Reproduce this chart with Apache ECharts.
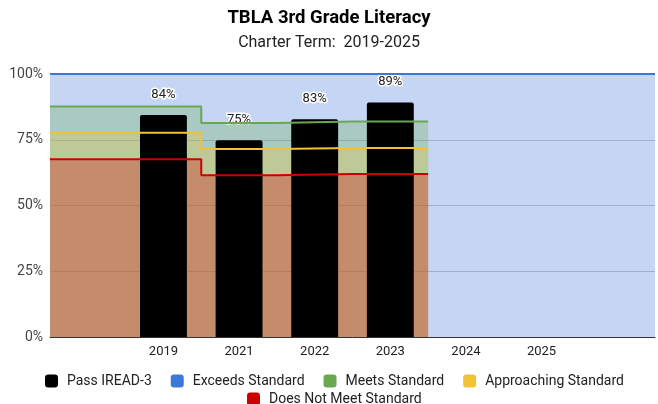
<!DOCTYPE html>
<html>
<head>
<meta charset="utf-8">
<title>TBLA 3rd Grade Literacy</title>
<script src="https://cdn.jsdelivr.net/npm/echarts@6/dist/echarts.min.js"></script>
<style>
  html, body { margin: 0; padding: 0; background: #fff; }
  #chart { width: 658px; height: 404px; }
</style>
</head>
<body>
<div id="chart"></div>
<script>
// 横轴分类（首尾为空白分类）
const categories = ["", "2019", "2021", "2022", "2023", "2024", "2025", ""];

// 学生通过率（柱状）
const passIread = [null, 84.4, 74.8, 82.8, 89.2, null, null, null];

// 各标准阈值（阶梯面积）
const exceedsStandard = [100, 100, 100, 100, 100, 100, 100, 100];
const meetsStandard = [87.6, 87.6, 81.4, 81.9, 81.9, null, null, null];
const approachingStandard = [77.7, 77.7, 71.5, 71.9, 71.9, null, null, null];
const doesNotMeetStandard = [67.6, 67.6, 61.5, 62.0, 62.0, null, null, null];

const yTicks = [0, 25, 50, 75, 100];

const COLORS = {
  pass: "#000000",
  exceeds: "#3c78d8",
  meets: "#6aa84f",
  approaching: "#f1c232",
  doesNot: "#cc0000",
};

const FONT = "Roboto";

// 把每个分类的值转成阶梯点：每个分类占 [i, i+1]
function stepPoints(vals) {
  const pts = [];
  let last = -1;
  vals.forEach((v, i) => {
    if (v != null) {
      pts.push([i, v]);
      last = i;
    }
  });
  pts.push([last + 1, vals[last]]);
  return pts;
}

// 面积层（在柱子下面）
function areaSeries(name, vals, color) {
  return {
    name: name,
    type: "line",
    xAxisIndex: 1,
    step: "end",
    data: stepPoints(vals),
    symbol: "none",
    lineStyle: { width: 0 },
    itemStyle: { color: color },
    areaStyle: { color: color, opacity: 0.3 },
    z: 1,
  };
}

// 线条层（在柱子上面）
function lineSeries(name, vals, color, width) {
  return {
    name: name,
    type: "line",
    xAxisIndex: 1,
    step: "end",
    data: stepPoints(vals),
    symbol: "none",
    lineStyle: { color: color, width: width },
    itemStyle: { color: color },
    z: 4,
  };
}

const legendText = { fontFamily: FONT, fontSize: 14, color: "#222", padding: [0, 0, 0, 4] };

const chart = echarts.init(document.getElementById("chart"));

chart.setOption({
  animation: false,
  textStyle: { fontFamily: FONT },
  title: {
    text: "TBLA 3rd Grade Literacy",
    subtext: "Charter Term:  2019-2025",
    left: "center",
    top: 2,
    itemGap: 4,
    textStyle: { fontFamily: FONT, fontSize: 18.5, fontWeight: "bold", color: "#000", lineHeight: 22 },
    subtextStyle: { fontFamily: FONT, fontSize: 16, color: "#222", lineHeight: 20 },
  },
  legend: [
    {
      data: [
        { name: "Pass IREAD-3", itemStyle: { color: COLORS.pass } },
        { name: "Exceeds Standard", itemStyle: { color: COLORS.exceeds } },
        { name: "Meets Standard", itemStyle: { color: COLORS.meets } },
        { name: "Approaching Standard", itemStyle: { color: COLORS.approaching } },
      ],
      left: 40,
      top: 369,
      icon: "roundRect",
      itemWidth: 13,
      itemHeight: 13,
      itemGap: 19,
      selectedMode: false,
      textStyle: legendText,
    },
    {
      data: [
        { name: "Does Not Meet Standard", itemStyle: { color: COLORS.doesNot } },
      ],
      left: 242,
      top: 387,
      icon: "roundRect",
      itemWidth: 13,
      itemHeight: 13,
      selectedMode: false,
      textStyle: legendText,
    },
  ],
  grid: { left: 50, right: 3, top: 74, bottom: 67 },
  xAxis: [
    {
      type: "category",
      data: categories,
      boundaryGap: true,
      axisTick: { show: false },
      axisLine: { lineStyle: { color: "#333", width: 1 } },
      axisLabel: { color: "#222", fontSize: 13, margin: 8, fontFamily: FONT, interval: 0 },
    },
    {
      type: "value",
      min: 0,
      max: categories.length,
      show: false,
    },
  ],
  yAxis: {
    type: "value",
    min: yTicks[0],
    max: yTicks[yTicks.length - 1],
    interval: 25,
    axisLine: { show: false },
    axisTick: { show: false },
    axisLabel: { color: "#444", fontSize: 14, margin: 7, formatter: "{value}%", fontFamily: FONT },
    splitLine: { lineStyle: { color: "#c8c8c8", width: 1 } },
  },
  series: [
    areaSeries("Exceeds Standard", exceedsStandard, COLORS.exceeds),
    areaSeries("Meets Standard", meetsStandard, COLORS.meets),
    areaSeries("Approaching Standard", approachingStandard, COLORS.approaching),
    areaSeries("Does Not Meet Standard", doesNotMeetStandard, COLORS.doesNot),
    {
      name: "Pass IREAD-3",
      type: "bar",
      xAxisIndex: 0,
      data: passIread,
      barWidth: "62%",
      itemStyle: { color: COLORS.pass, borderRadius: [2, 2, 0, 0] },
      label: {
        show: true,
        position: "top",
        distance: 14,
        fontFamily: FONT,
        fontSize: 13,
        color: "#222",
        textBorderColor: "#fff",
        textBorderWidth: 3,
        formatter: (p) => Math.round(p.value) + "%",
      },
      z: 3,
    },
    lineSeries("Exceeds Standard", exceedsStandard, COLORS.exceeds, 2),
    lineSeries("Meets Standard", meetsStandard, COLORS.meets, 2),
    lineSeries("Approaching Standard", approachingStandard, COLORS.approaching, 2),
    lineSeries("Does Not Meet Standard", doesNotMeetStandard, COLORS.doesNot, 2),
  ],
});
</script>
</body>
</html>
